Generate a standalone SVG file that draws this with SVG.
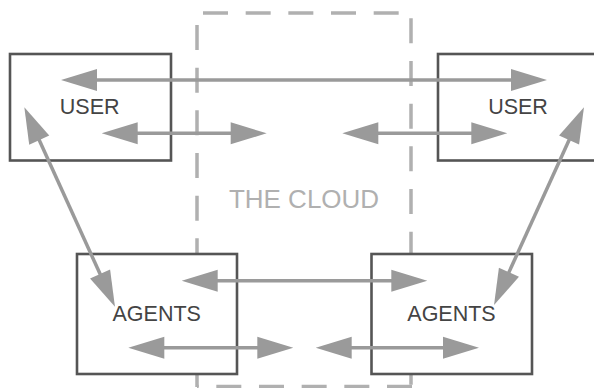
<svg xmlns="http://www.w3.org/2000/svg" width="594" height="388" viewBox="0 0 594 388">
  <style>
    .cloud { fill: none; stroke: #b0b0b0; stroke-width: 3.5; stroke-dasharray: 25 17.67; }
    .box { fill: #ffffff; stroke: #555555; stroke-width: 2.6; }
    .label { font-family: "Liberation Sans", Arial, Helvetica, sans-serif; font-size: 21.5px; fill: #444444; text-anchor: middle; }
    .cloud-label { font-family: "Liberation Sans", Arial, Helvetica, sans-serif; font-size: 26px; fill: #b0b0b0; text-anchor: middle; }
    .link { stroke: #9a9a9a; stroke-width: 3.5; fill: none; marker-start: url(#head); marker-end: url(#head); }
  </style>
  <defs>
    <marker id="head" markerUnits="userSpaceOnUse" markerWidth="36" markerHeight="22" refX="2" refY="11" orient="auto-start-reverse" overflow="visible">
      <path d="M0,0 L36,11 L0,22 Z" fill="#9a9a9a"/>
    </marker>
  </defs>

  <rect width="594" height="388" fill="#ffffff"/>

  <!-- the cloud: dashed outline drawn as four edges -->
  <g id="cloud">
    <line class="cloud" x1="197" y1="13" x2="411" y2="13" stroke-dashoffset="36.67"/>
    <line class="cloud" x1="411" y1="13" x2="411" y2="387" stroke-dashoffset="37.37"/>
    <line class="cloud" x1="412" y1="386.5" x2="197" y2="386.5" stroke-dashoffset="0"/>
    <line class="cloud" x1="197" y1="13" x2="197" y2="387" stroke-dashoffset="30.67"/>
    <text class="cloud-label" x="304" y="207.5">THE CLOUD</text>
  </g>

  <g id="user-left">
    <rect class="box" x="10" y="54" width="161" height="106.5"/>
    <text class="label" x="89.7" y="114.3">USER</text>
  </g>

  <g id="user-right">
    <rect class="box" x="438" y="54" width="180" height="106.5"/>
    <text class="label" x="518" y="114.3">USER</text>
  </g>

  <g id="agents-left">
    <rect class="box" x="77" y="254" width="160" height="120"/>
    <text class="label" x="156.7" y="320.7">AGENTS</text>
  </g>

  <g id="agents-right">
    <rect class="box" x="371.5" y="254" width="160.5" height="120"/>
    <text class="label" x="451.5" y="320.7">AGENTS</text>
  </g>

  <!-- two-headed connectors; each line stops where its arrowheads begin -->
  <g id="connectors">
    <line class="link" x1="95" y1="80" x2="513" y2="80"/>
    <line class="link" x1="135.7" y1="133.3" x2="232.7" y2="133.3"/>
    <line class="link" x1="376.3" y1="133.3" x2="473.3" y2="133.3"/>
    <line class="link" x1="215.7" y1="280.7" x2="393.3" y2="280.7"/>
    <line class="link" x1="162.3" y1="347.7" x2="259.3" y2="347.7"/>
    <line class="link" x1="349.7" y1="347.7" x2="445" y2="347.7"/>
    <line class="link" x1="38.4" y1="138.3" x2="100.9" y2="275.8"/>
    <line class="link" x1="569.9" y1="138.2" x2="508.1" y2="274.1"/>
  </g>
</svg>
